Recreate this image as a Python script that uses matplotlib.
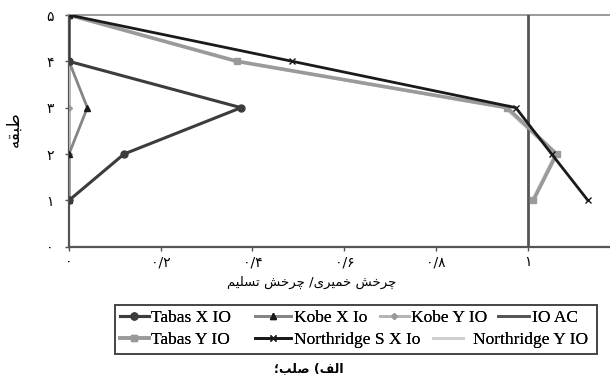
import matplotlib
matplotlib.use("Agg")
import matplotlib.pyplot as plt
from matplotlib.patches import Rectangle

# --- Data: story level vs. plastic rotation / yield rotation ---
floors = [1, 2, 3, 4, 5]
tabas_x_io = [0.0, 0.12, 0.375, 0.0, 0.0]
kobe_x_io = [0.0, 0.0, 0.04, 0.0, 0.0]
kobe_y_io = [0.0, 0.0, 0.0, 0.0, 0.0]
tabas_y_io = [1.012, 1.063, 0.955, 0.367, 0.0]
northridge_s_x_io = [1.131, 1.052, 0.974, 0.487, 0.0]
northridge_y_io = [1.010, 1.060, 0.950, 0.362, 0.0]
io_ac_x = [1.0, 1.0]
io_ac_floors = [0, 5]

x_ticks = [0, 0.2, 0.4, 0.6, 0.8, 1.0, 1.2]
x_tick_labels = ['۰', '۰/۲', '۰/۴', '۰/۶', '۰/۸', '۱', '۱/۲']
y_ticks = [0, 1, 2, 3, 4, 5]
y_tick_labels = ['۰', '۱', '۲', '۳', '۴', '۵']

x_label = 'چرخش خمیری/ چرخش تسلیم'
y_label = 'طبقه'
caption = 'الف) صلب؛'

# Arabic presentation forms: isolated, final, initial, medial
FORMS = {
    'ا': ('\uFE8D', '\uFE8E', None, None),
    'ب': ('\uFE8F', '\uFE90', '\uFE91', '\uFE92'),
    'ت': ('\uFE95', '\uFE96', '\uFE97', '\uFE98'),
    'خ': ('\uFEA5', '\uFEA6', '\uFEA7', '\uFEA8'),
    'ر': ('\uFEAD', '\uFEAE', None, None),
    'س': ('\uFEB1', '\uFEB2', '\uFEB3', '\uFEB4'),
    'ش': ('\uFEB5', '\uFEB6', '\uFEB7', '\uFEB8'),
    'ص': ('\uFEB9', '\uFEBA', '\uFEBB', '\uFEBC'),
    'ط': ('\uFEC1', '\uFEC2', '\uFEC3', '\uFEC4'),
    'ف': ('\uFED1', '\uFED2', '\uFED3', '\uFED4'),
    'ق': ('\uFED5', '\uFED6', '\uFED7', '\uFED8'),
    'ل': ('\uFEDD', '\uFEDE', '\uFEDF', '\uFEE0'),
    'م': ('\uFEE1', '\uFEE2', '\uFEE3', '\uFEE4'),
    'ه': ('\uFEE9', '\uFEEA', '\uFEEB', '\uFEEC'),
    'چ': ('\uFB7A', '\uFB7B', '\uFB7C', '\uFB7D'),
    'ی': ('\uFBFC', '\uFBFD', '\uFBFE', '\uFBFF'),
}
RIGHT_JOINING = set('ادذرزژو')
MIRROR = {'(': ')', ')': '('}


def shape_rtl(text):
    """Joins Persian letters and puts them in visual (left-to-right) order."""
    glyphs = []
    for i, ch in enumerate(text):
        if ch not in FORMS:
            glyphs.append(ch)
            continue
        prev = text[i - 1] if i > 0 else None
        nxt = text[i + 1] if i + 1 < len(text) else None
        join_prev = prev in FORMS and prev not in RIGHT_JOINING
        join_next = nxt in FORMS and ch not in RIGHT_JOINING
        iso, fin, ini, med = FORMS[ch]
        if join_prev and join_next:
            glyphs.append(med)
        elif join_prev:
            glyphs.append(fin)
        elif join_next:
            glyphs.append(ini)
        else:
            glyphs.append(iso)
    return ''.join(MIRROR.get(g, g) for g in reversed(glyphs))


fig = plt.figure(figsize=(6.1, 3.81), dpi=100)
# the axis runs a bit past the right edge, like the cropped original
ax = fig.add_axes([0.1131, 0.3525, 0.9025, 0.6081])

ax.plot(northridge_y_io, floors, color='#cfcfcf', lw=2.0, label='Northridge Y IO', zorder=2)
ax.plot(kobe_y_io, floors, color='#b5b5b5', lw=2.0, marker='D', ms=3,
        mfc='#9a9a9a', mec='#9a9a9a', label='Kobe Y IO', zorder=3)
ax.plot(io_ac_x, io_ac_floors, color='#555555', lw=2.0, label='IO AC', zorder=3)
ax.plot(tabas_y_io, floors, color='#9a9a9a', lw=2.6, marker='s', ms=5,
        label='Tabas Y IO', zorder=4)
ax.plot(kobe_x_io, floors, color='#858585', lw=2.0, marker='^', ms=5,
        mfc='#1a1a1a', mec='#1a1a1a', label='Kobe X Io', zorder=4)
ax.plot(tabas_x_io, floors, color='#3c3c3c', lw=2.2, marker='o', ms=5,
        label='Tabas X IO', zorder=5)
ax.plot(northridge_s_x_io, floors, color='#1a1a1a', lw=2.0, marker='x', ms=4,
        label='Northridge S X Io', zorder=6)

ax.set_xlim(0, 1.2)
ax.set_ylim(0, 5)
ax.set_xticks(x_ticks)
ax.set_xticklabels(x_tick_labels, family='DejaVu Sans', fontsize=10)
ax.set_yticks(y_ticks)
ax.set_yticklabels(y_tick_labels, family='DejaVu Sans', fontsize=10)
ax.tick_params(axis='both', direction='out', length=3, width=1, color='#555555')
ax.tick_params(axis='x', pad=3)
ax.tick_params(axis='y', pad=8)

for side in ['left', 'bottom']:
    ax.spines[side].set_color('#555555')
    ax.spines[side].set_linewidth(1.6)
ax.spines['top'].set_color('#9a9a9a')
ax.spines['top'].set_linewidth(1.4)
ax.spines['right'].set_visible(False)

fig.text(0.511, 0.258, shape_rtl(x_label), family='DejaVu Sans', fontsize=9.5,
         ha='center', va='center')
fig.text(0.022, 0.662, shape_rtl(y_label), family='DejaVu Sans', fontsize=12,
         rotation=90, ha='center', va='center')
fig.text(0.507, 0.034, shape_rtl(caption), family='DejaVu Sans', fontsize=9,
         fontweight='bold', ha='center', va='center')

# legend: one framed box, entries placed the way the spreadsheet laid them out
handles, labels = ax.get_legend_handles_labels()
lookup = dict(zip(labels, handles))
legend_font = {'family': 'Liberation Serif', 'size': 12.5}
# (label, left edge, row centre - figure fractions, handle length, text pad)
entry_layout = [
    ('Tabas X IO', 0.197, 0.1654, 1.65, 0.15),
    ('Kobe X Io', 0.418, 0.1654, 2.1, 0.15),
    ('Kobe Y IO', 0.623, 0.1654, 1.65, 0.15),
    ('IO AC', 0.816, 0.1654, 1.8, 0.15),
    ('Tabas Y IO', 0.197, 0.1076, 1.65, 0.15),
    ('Northridge S X Io', 0.418, 0.1076, 2.1, 0.15),
    ('Northridge Y IO', 0.710, 0.1076, 1.75, 0.55),
]
for name, x, y, hlen, tpad in entry_layout:
    leg = fig.legend([lookup[name]], [name], loc='center left',
                     bbox_to_anchor=(x, y), frameon=False,
                     handlelength=hlen, handletextpad=tpad,
                     borderpad=0, borderaxespad=0, prop=legend_font)
    fig.add_artist(leg)

fig.add_artist(Rectangle((0.1885, 0.0709), 0.790, 0.1286, transform=fig.transFigure,
                         fill=False, edgecolor='#444444', lw=1.4))

fig.savefig('out.png', dpi=100)
